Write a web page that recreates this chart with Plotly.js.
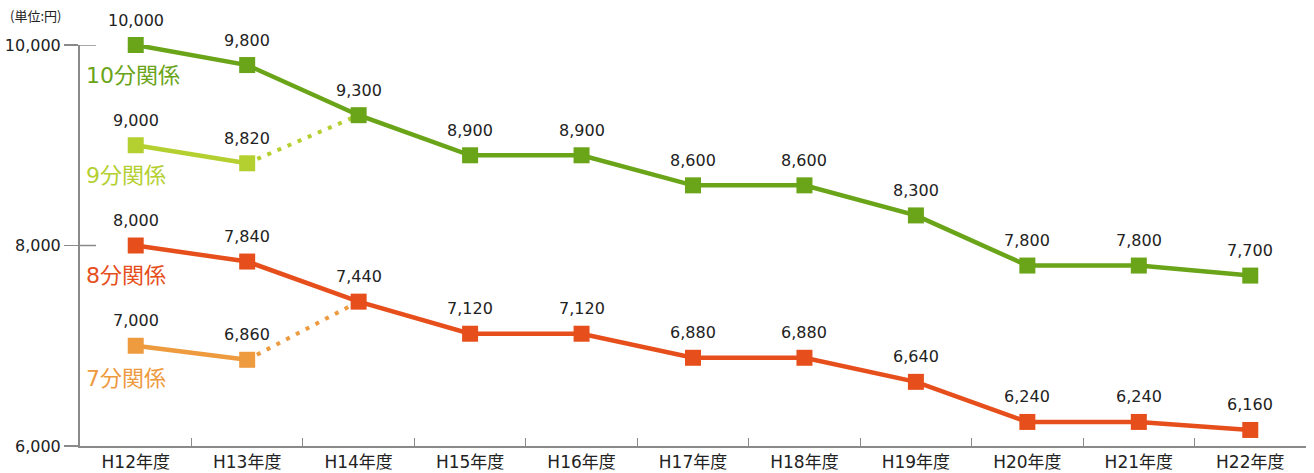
<!DOCTYPE html>
<html><head><meta charset="utf-8">
<script src="https://cdn.plot.ly/plotly-3.0.1.min.js"></script>
<style>html,body{margin:0;padding:0;background:#fff}#chart{width:1314px;height:473px}</style>
</head><body><div id="chart"></div>
<script>
const years = ["H12年度","H13年度","H14年度","H15年度","H16年度","H17年度","H18年度","H19年度","H20年度","H21年度","H22年度"];
const v10 = [10000,9800,9300,8900,8900,8600,8600,8300,7800,7800,7700];
const v9 = [9000,8820];
const v9link = [8820,9300];
const v8 = [8000,7840,7440,7120,7120,6880,6880,6640,6240,6240,6160];
const v7 = [7000,6860];
const v7link = [6860,7440];
const yTicks = [6000,8000,10000];
const seriesNames = ["10分関係","9分関係","8分関係","7分関係"];

const cGreen = "#6aa418", cLightGreen = "#b4cf30", cRed = "#e64f1c", cOrange = "#ee9a3e";
const numFont = {family:"DejaVu Sans, sans-serif", size:16, color:"#222"};
const fmt = v => v.toLocaleString("en-US");

function seg(x, y, color, dash, showMarker, width){
  return {x:x, y:y, type:"scatter", mode:"lines"+(showMarker?"+markers":""),
    line:{color:color, width:width, dash:dash},
    marker:{symbol:"square", size:16, color:color},
    cliponaxis:false, hoverinfo:"skip", showlegend:false};
}

const traces = [
  seg(years.slice(1,3), v9link, cLightGreen, "4px,7px", false, 4),
  seg(years.slice(1,3), v7link, cOrange, "4px,7px", false, 4),
  seg(years.slice(0,2), v9, cLightGreen, "solid", true, 4.5),
  seg(years.slice(0,2), v7, cOrange, "solid", true, 4.5),
  seg(years, v10, cGreen, "solid", true, 4.5),
  seg(years, v8, cRed, "solid", true, 4.5)
];

function valueLabels(x, y){
  return y.map((v,i)=>({x:x[i], y:v, text:fmt(v), showarrow:false, yshift:25,
    xanchor:"center", yanchor:"middle", font:numFont}));
}

const W = 1226;
const labelFont = (c)=>({family:"DejaVu Sans, Noto Sans CJK JP, sans-serif", size:22, color:c});
const layout = {
  width:1314, height:473,
  margin:{l:80, r:8, t:45, b:27},
  paper_bgcolor:"#fff", plot_bgcolor:"#fff",
  xaxis:{type:"category", categoryorder:"array", categoryarray:years, range:[-0.5,10.5],
    showgrid:false, zeroline:false,
    showline:true, linecolor:"#8a8a8a", linewidth:2,
    ticks:"inside", tickson:"boundaries", ticklen:8, tickcolor:"#8a8a8a", tickwidth:1,
    tickfont:{family:"DejaVu Sans, Noto Sans CJK JP, sans-serif", size:17, color:"#222"}},
  yaxis:{range:[6000,10000], tickvals:yTicks, ticktext:yTicks.map(fmt), showgrid:false, zeroline:false,
    showline:true, linecolor:"#8a8a8a", linewidth:2,
    ticks:"outside", ticklen:14, tickcolor:"#8a8a8a", tickwidth:1.5,
    tickfont:{family:"DejaVu Sans, sans-serif", size:16, color:"#222"}},
  shapes:[10000,8000].map(v=>({type:"line", xref:"paper", yref:"y", x0:0, x1:16/W, y0:v, y1:v,
    line:{color:"#8a8a8a", width:1.5}})),
  annotations:[
    {text:"(単位:円)", xref:"paper", yref:"paper", x:-72/W, y:1+30/401, xanchor:"left", yanchor:"middle",
      showarrow:false, font:{family:"Noto Sans CJK JP, sans-serif", size:13, color:"#222"}},
    {text:seriesNames[0], x:-0.46, y:9700, xanchor:"left", yanchor:"middle", showarrow:false, font:labelFont(cGreen)},
    {text:seriesNames[1], x:-0.46, y:8700, xanchor:"left", yanchor:"middle", showarrow:false, font:labelFont(cLightGreen)},
    {text:seriesNames[2], x:-0.46, y:7700, xanchor:"left", yanchor:"middle", showarrow:false, font:labelFont(cRed)},
    {text:seriesNames[3], x:-0.46, y:6670, xanchor:"left", yanchor:"middle", showarrow:false, font:labelFont(cOrange)}
  ].concat(valueLabels(years, v10), valueLabels(years, v8),
           valueLabels(years.slice(0,2), v9), valueLabels(years.slice(0,2), v7))
};
Plotly.newPlot("chart", traces, layout, {displayModeBar:false, staticPlot:true});
</script></body></html>
